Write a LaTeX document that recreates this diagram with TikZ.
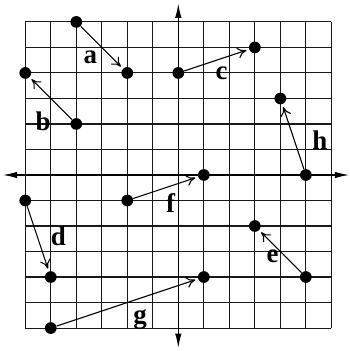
\documentclass[tikz,border=0pt]{standalone}
\usepackage{fontspec}
\setmainfont{Liberation Serif}
\usetikzlibrary{arrows.meta}
\tikzset{
  dot/.style={circle,fill=black,inner sep=0pt,minimum size=0.23cm},
  vec/.style={-{To[length=5pt,width=6pt]},line width=0.6pt,shorten >=1.5pt,shorten <=0pt},
  lbl/.style={font=\fontsize{15}{15}\selectfont\bfseries,inner sep=0pt},
  axis/.style={line width=0.7pt,-{Latex[length=8pt,width=3.6pt]}},
}
\begin{document}
\begin{tikzpicture}[x=0.5cm,y=0.5cm]
\useasboundingbox (-6.99,-6.9) rectangle (6.73,6.86);
\draw[line width=0.6pt,black!90,step=0.5cm] (-6,-6) grid (6,6);
\draw[axis] (0,0) -- (0,6.72);
\draw[axis] (0,0) -- (0,-6.78);
\draw[axis] (0,0) -- (-6.88,0);
\draw[axis] (0,0) -- (6.7,0);
% points
\foreach \n/\p in {a1/{(-4,6)},a2/{(-2,4)},b1/{(-4,2)},b2/{(-6,4)},c1/{(0,4)},c2/{(3,5)},
  h1/{(5,0)},h2/{(4,3)},f1/{(-2,-1)},f2/{(1,0)},d1/{(-6,-1)},d2/{(-5,-4)},
  g1/{(-5,-6)},g2/{(1,-4)},e1/{(5,-4)},e2/{(3,-2)}}
  \node[dot] (\n) at \p {};
\foreach \s/\t in {a1/a2,b1/b2,c1/c2,h1/h2,f1/f2,d1/d2,g1/g2,e1/e2}
  \draw[vec] (\s) -- (\t);
\node[lbl] (la) at (-3.45,4.6) {a};
\node[lbl] (lb) at (-5.3,2.1) {b};
\node[lbl] (lc) at (1.7,4.0) {c};
\node[lbl] (lh) at (5.55,1.35) {h};
\node[lbl] (lf) at (-0.3,-1.1) {f};
\node[lbl] (ld) at (-4.7,-2.4) {d};
\node[lbl] (lg) at (-1.5,-5.65) {g};
\node[lbl] (le) at (3.7,-3.2) {e};
\end{tikzpicture}
\end{document}
